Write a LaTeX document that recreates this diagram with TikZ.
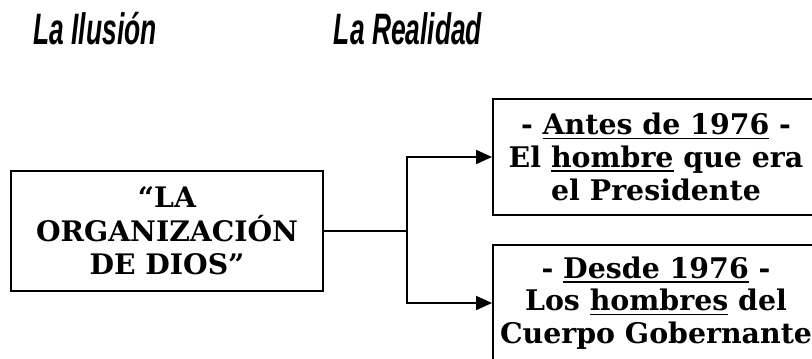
\documentclass[tikz,border=0pt]{standalone}
\usepackage{fontspec}
\usepackage{graphicx}
\setmainfont{DejaVu Serif}
\newfontfamily\headfont{Liberation Sans}
\usepackage{tikz}
\usetikzlibrary{arrows.meta,positioning}
\newcommand{\uword}[1]{%
  \setbox0\hbox{#1}\rlap{\rule[-3.4pt]{\wd0}{1.4pt}}\box0\relax}
\tikzstyle{claim} = [
  draw,
  rectangle,
  line width=1.5pt,
  minimum width=234pt,
  minimum height=90pt,
  inner sep=0pt,
  align=center,
  font=\fontsize{21.2}{25}\selectfont\bfseries,
]
\tikzstyle{fact} = [
  draw,
  rectangle,
  line width=1.5pt,
  minimum width=244.5pt,
  minimum height=87pt,
  inner sep=0pt,
  align=center,
  font=\fontsize{21.3}{24.5}\selectfont\bfseries,
]
\tikzstyle{heading} = [
  inner sep=0pt,
  font=\headfont\fontsize{33}{36}\selectfont\bfseries\itshape,
]

\begin{document}
\begin{tikzpicture}[
    x=0.75pt,
    y=0.75pt,
    line width=1.5pt,
  ]
  \clip (0,0) rectangle (812,358);
  \node[claim]
  (org) at (167,127) {``LA\\ORGANIZACIÓN\\DE DIOS''};
  \coordinate[right=62.25pt of org] (split);
  \node[
    fact,
    anchor=west,
  ] (antes) at ([xshift=63.75pt,yshift=55.5pt]split)
  {- \uword{Antes de 1976} -\\El \uword{hombre} que era\\el Presidente};
  \node[
    fact,
    anchor=west,
  ] (desde) at ([xshift=63.75pt,yshift=-54pt]split)
  {- \uword{Desde 1976} -\\Los \uword{hombres} del\\Cuerpo Gobernante};
  \node[heading] (ilusion) at (95,329)
  {\scalebox{0.6}[1]{La Ilusión}};
  \node[heading] (realidad) at (408,329)
  {\scalebox{0.6}[1]{La Realidad}};
  \draw (org) -- (split);
  \draw [-{Triangle[length=12pt,width=10.5pt]}] (split) |- (antes);
  \draw [-{Triangle[length=12pt,width=10.5pt]}] (split) |- (desde);
\end{tikzpicture}
\end{document}
